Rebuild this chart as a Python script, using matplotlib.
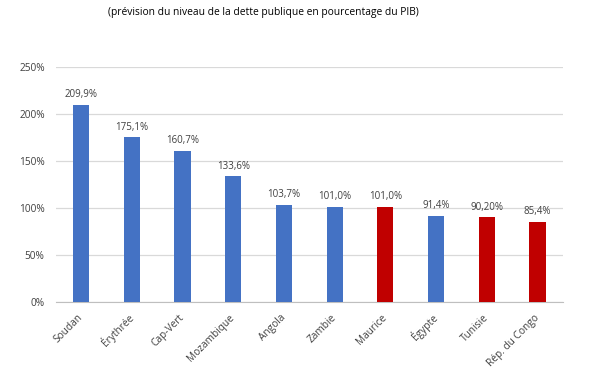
import matplotlib.pyplot as plt
from matplotlib.ticker import FuncFormatter

plt.rcParams['font.family'] = ['Open Sans', 'DejaVu Sans']

# Countries and forecast public debt (% of GDP)
pays = ["Soudan", "Érythrée", "Cap-Vert", "Mozambique", "Angola",
        "Zambie", "Maurice", "Égypte", "Tunisie", "Rép. du Congo"]
dette = [209.9, 175.1, 160.7, 133.6, 103.7, 101.0, 101.0, 91.4, 90.2, 85.4]
etiquettes = ["209,9%", "175,1%", "160,7%", "133,6%", "103,7%",
              "101,0%", "101,0%", "91,4%", "90,20%", "85,4%"]
groupe = ["b", "b", "b", "b", "b", "b", "r", "b", "r", "r"]

couleurs = {"b": "#4472C4", "r": "#C00000"}

fig = plt.figure(figsize=(6, 3.72), dpi=100)
ax = fig.add_axes([0.093, 0.188, 0.845, 0.632])

x = range(len(pays))
bars = ax.bar(x, dette, width=0.32, color=[couleurs[g] for g in groupe], zorder=3)

for b, lab in zip(bars, etiquettes):
    ax.text(b.get_x() + b.get_width() / 2, b.get_height() + 5, lab,
            ha="center", va="bottom", fontsize=7, color="#404040")

ax.set_ylim(0, 250)
ax.set_yticks(range(0, 251, 50))
ax.yaxis.set_major_formatter(FuncFormatter(lambda v, p: f"{v:.0f}%"))
ax.set_xlim(-0.5, len(pays) - 0.5)
ax.set_xticks(list(x))
ax.set_xticklabels(pays, rotation=45, ha="right", va="center", rotation_mode="anchor")

ax.grid(axis="y", color="#D9D9D9", linewidth=0.9, zorder=0)
for s in ["top", "right", "left"]:
    ax.spines[s].set_visible(False)
ax.spines["bottom"].set_color("#BFBFBF")
ax.tick_params(axis="both", length=0, labelsize=7.3, colors="#404040")
ax.tick_params(axis="y", pad=8)
ax.tick_params(axis="x", pad=10)

fig.text(0.439, 0.967, "(prévision du niveau de la dette publique en pourcentage du PIB)",
         ha="center", va="center", fontsize=7.4, color="#000000")

fig.savefig("out.png", dpi=100)
